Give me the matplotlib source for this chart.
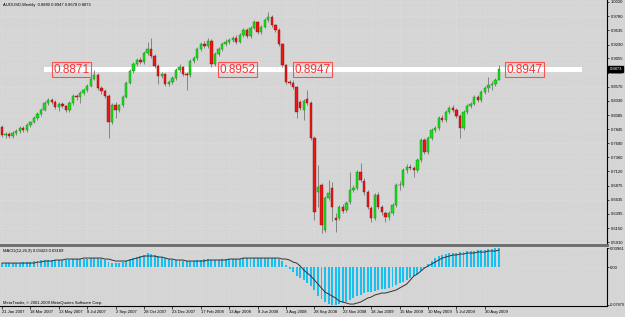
import numpy as np
import matplotlib
matplotlib.use('Agg')
import matplotlib.pyplot as plt
from matplotlib.transforms import blended_transform_factory

# weekly AUDUSD candles (21 Jan 2007 .. early Oct 2009)
opens = [
  0.7880, 0.7743, 0.7760, 0.7726, 0.7777, 0.7811, 0.7863, 0.7828, 0.7914, 0.7965,
  0.8034, 0.8102, 0.8171, 0.8291, 0.8342, 0.8308, 0.8222, 0.8274, 0.8239, 0.8171,
  0.8291, 0.8410, 0.8393, 0.8462, 0.8513, 0.8582, 0.8702, 0.8770, 0.8547, 0.8496,
  0.8410, 0.7965, 0.8256, 0.8171, 0.8256, 0.8393, 0.8633, 0.8838, 0.8958, 0.9027,
  0.8992, 0.9146, 0.9215, 0.9095, 0.8924, 0.8753, 0.8787, 0.8616, 0.8650, 0.8719,
  0.8856, 0.8907, 0.8787, 0.8770, 0.9010, 0.9061, 0.9215, 0.9301, 0.9266, 0.9352,
  0.8958, 0.9129, 0.9215, 0.9301, 0.9335, 0.9369, 0.9403, 0.9335, 0.9455, 0.9540,
  0.9437, 0.9575, 0.9677, 0.9506, 0.9592, 0.9712, 0.9763, 0.9626, 0.9540, 0.9301,
  0.8941, 0.8650, 0.8640, 0.8565, 0.8300, 0.8171, 0.8359, 0.8291, 0.7691, 0.6767,
  0.6887, 0.6116, 0.6664, 0.6835, 0.6322, 0.6322, 0.6510, 0.6459, 0.6596, 0.6801,
  0.6835, 0.7109, 0.6955, 0.6767, 0.6493, 0.6322, 0.6716, 0.6510, 0.6407, 0.6339,
  0.6407, 0.6544, 0.6887, 0.6880, 0.7144, 0.7195, 0.7178, 0.7144, 0.7315, 0.7657,
  0.7451, 0.7691, 0.7828, 0.7863, 0.8034, 0.8000, 0.8137, 0.8205, 0.8171, 0.8068,
  0.7863, 0.8137, 0.8239, 0.8274, 0.8393, 0.8342, 0.8479, 0.8547, 0.8599, 0.8616,
  0.8684]
highs = [
  0.7920, 0.7800, 0.7790, 0.7810, 0.7850, 0.7890, 0.7900, 0.7940, 0.7990, 0.8060,
  0.8130, 0.8200, 0.8320, 0.8370, 0.8380, 0.8340, 0.8300, 0.8310, 0.8260, 0.8320,
  0.8440, 0.8450, 0.8490, 0.8550, 0.8610, 0.8730, 0.8856, 0.8810, 0.8580, 0.8530,
  0.8440, 0.8290, 0.8300, 0.8280, 0.8420, 0.8660, 0.8870, 0.8990, 0.9060, 0.9070,
  0.9180, 0.9335, 0.9403, 0.9130, 0.8960, 0.8830, 0.8810, 0.8690, 0.8750, 0.8890,
  0.8950, 0.8930, 0.8820, 0.9040, 0.9100, 0.9250, 0.9330, 0.9350, 0.9400, 0.9390,
  0.9160, 0.9250, 0.9330, 0.9380, 0.9410, 0.9440, 0.9450, 0.9490, 0.9570, 0.9580,
  0.9610, 0.9710, 0.9700, 0.9630, 0.9750, 0.9849, 0.9790, 0.9650, 0.9570, 0.9320,
  0.8960, 0.8690, 0.8680, 0.8590, 0.8340, 0.8360, 0.8513, 0.8320, 0.7720, 0.7229,
  0.6920, 0.6700, 0.6972, 0.6930, 0.6400, 0.6540, 0.6560, 0.6620, 0.7109, 0.6880,
  0.7150, 0.7264, 0.7000, 0.6800, 0.6530, 0.6750, 0.6760, 0.6550, 0.6440, 0.6450,
  0.6580, 0.6920, 0.6960, 0.7180, 0.7240, 0.7250, 0.7220, 0.7350, 0.7700, 0.7700,
  0.7720, 0.7860, 0.7900, 0.8070, 0.8080, 0.8170, 0.8240, 0.8250, 0.8200, 0.8100,
  0.8170, 0.8270, 0.8310, 0.8430, 0.8420, 0.8510, 0.8580, 0.8740, 0.8660, 0.8720,
  0.8947]
lows = [
  0.7710, 0.7700, 0.7690, 0.7700, 0.7740, 0.7780, 0.7790, 0.7800, 0.7880, 0.7940,
  0.8000, 0.8070, 0.8150, 0.8260, 0.8280, 0.8190, 0.8160, 0.8200, 0.8130, 0.8140,
  0.8260, 0.8350, 0.8290, 0.8430, 0.8480, 0.8560, 0.8680, 0.8510, 0.8450, 0.8370,
  0.7690, 0.7930, 0.8034, 0.8130, 0.8230, 0.8370, 0.8610, 0.8810, 0.8930, 0.8950,
  0.8960, 0.9120, 0.9060, 0.8890, 0.8616, 0.8720, 0.8580, 0.8580, 0.8620, 0.8690,
  0.8820, 0.8750, 0.8513, 0.8740, 0.8970, 0.9030, 0.9180, 0.9230, 0.9240, 0.8900,
  0.8930, 0.9100, 0.9180, 0.9270, 0.9300, 0.9340, 0.9300, 0.9310, 0.9420, 0.9400,
  0.9410, 0.9550, 0.9470, 0.9480, 0.9570, 0.9680, 0.9590, 0.9500, 0.9270, 0.8900,
  0.8610, 0.8600, 0.8530, 0.8034, 0.8170, 0.8000, 0.8260, 0.7650, 0.6288, 0.6510,
  0.6065, 0.6080, 0.6630, 0.6270, 0.6082, 0.6280, 0.6400, 0.6420, 0.6560, 0.6760,
  0.6800, 0.6930, 0.6720, 0.6470, 0.6260, 0.6290, 0.6470, 0.6380, 0.6250, 0.6290,
  0.6370, 0.6510, 0.6800, 0.6850, 0.7100, 0.7140, 0.7020, 0.7110, 0.7280, 0.7410,
  0.7420, 0.7660, 0.7790, 0.7830, 0.7960, 0.7970, 0.8100, 0.8130, 0.8030, 0.7700,
  0.7830, 0.8100, 0.8200, 0.8250, 0.8300, 0.8310, 0.8450, 0.8480, 0.8520, 0.8590,
  0.8678]
closes = [
  0.7743, 0.7760, 0.7726, 0.7777, 0.7811, 0.7863, 0.7828, 0.7914, 0.7965, 0.8034,
  0.8102, 0.8171, 0.8291, 0.8342, 0.8308, 0.8222, 0.8274, 0.8239, 0.8171, 0.8291,
  0.8410, 0.8393, 0.8462, 0.8513, 0.8582, 0.8702, 0.8770, 0.8547, 0.8496, 0.8410,
  0.7965, 0.8256, 0.8171, 0.8256, 0.8393, 0.8633, 0.8838, 0.8958, 0.9027, 0.8992,
  0.9146, 0.9215, 0.9095, 0.8924, 0.8753, 0.8787, 0.8616, 0.8650, 0.8719, 0.8856,
  0.8907, 0.8787, 0.8770, 0.9010, 0.9061, 0.9215, 0.9301, 0.9266, 0.9352, 0.8958,
  0.9129, 0.9215, 0.9301, 0.9335, 0.9369, 0.9403, 0.9335, 0.9455, 0.9540, 0.9437,
  0.9575, 0.9677, 0.9506, 0.9592, 0.9712, 0.9763, 0.9626, 0.9540, 0.9301, 0.8941,
  0.8650, 0.8640, 0.8565, 0.8137, 0.8205, 0.8325, 0.8291, 0.7691, 0.6424, 0.6853,
  0.6202, 0.6664, 0.6750, 0.6510, 0.6288, 0.6510, 0.6442, 0.6579, 0.6801, 0.6835,
  0.7109, 0.6972, 0.6767, 0.6510, 0.6322, 0.6716, 0.6510, 0.6424, 0.6339, 0.6407,
  0.6544, 0.6887, 0.6880, 0.7144, 0.7195, 0.7178, 0.7144, 0.7315, 0.7657, 0.7451,
  0.7691, 0.7828, 0.7863, 0.8034, 0.8000, 0.8137, 0.8205, 0.8171, 0.8068, 0.7863,
  0.8137, 0.8239, 0.8274, 0.8393, 0.8342, 0.8479, 0.8547, 0.8599, 0.8616, 0.8684,
  0.8873]

# MACD(12,26,9) main (histogram) and signal line
macd_main = [
  0.0083, 0.0083, 0.0083, 0.0083, 0.0083, 0.0083, 0.0104, 0.0104, 0.0104, 0.0125,
  0.0125, 0.0146, 0.0146, 0.0146, 0.0146, 0.0146, 0.0146, 0.0146, 0.0146, 0.0146,
  0.0166, 0.0166, 0.0166, 0.0166, 0.0166, 0.0187, 0.0187, 0.0187, 0.0166, 0.0146,
  0.0104, 0.0083, 0.0083, 0.0083, 0.0104, 0.0125, 0.0166, 0.0187, 0.0208, 0.0229,
  0.0250, 0.0291, 0.0270, 0.0250, 0.0229, 0.0208, 0.0187, 0.0166, 0.0146, 0.0146,
  0.0146, 0.0125, 0.0125, 0.0125, 0.0125, 0.0146, 0.0146, 0.0166, 0.0166, 0.0146,
  0.0146, 0.0146, 0.0166, 0.0166, 0.0166, 0.0166, 0.0166, 0.0166, 0.0187, 0.0187,
  0.0187, 0.0187, 0.0187, 0.0187, 0.0187, 0.0187, 0.0187, 0.0187, 0.0166, 0.0125,
  0.0042, -0.0042, -0.0104, -0.0187, -0.0229, -0.0270, -0.0333, -0.0395, -0.0478, -0.0603,
  -0.0666, -0.0728, -0.0770, -0.0788, -0.0788, -0.0770, -0.0749, -0.0728, -0.0686, -0.0645,
  -0.0603, -0.0582, -0.0541, -0.0520, -0.0520, -0.0499, -0.0478, -0.0458, -0.0458, -0.0437,
  -0.0416, -0.0374, -0.0333, -0.0312, -0.0270, -0.0229, -0.0187, -0.0146, -0.0083, -0.0021,
  0.0062, 0.0125, 0.0187, 0.0229, 0.0250, 0.0270, 0.0291, 0.0291, 0.0291, 0.0312,
  0.0312, 0.0333, 0.0333, 0.0333, 0.0354, 0.0354, 0.0354, 0.0374, 0.0374, 0.0395,
  0.0396]
macd_signal = [
  0.0083, 0.0083, 0.0083, 0.0083, 0.0083, 0.0083, 0.0083, 0.0083, 0.0083, 0.0083,
  0.0104, 0.0104, 0.0125, 0.0125, 0.0125, 0.0146, 0.0146, 0.0146, 0.0166, 0.0166,
  0.0166, 0.0166, 0.0166, 0.0187, 0.0187, 0.0187, 0.0187, 0.0187, 0.0187, 0.0166,
  0.0166, 0.0146, 0.0125, 0.0125, 0.0125, 0.0125, 0.0146, 0.0166, 0.0187, 0.0208,
  0.0229, 0.0229, 0.0229, 0.0229, 0.0208, 0.0208, 0.0187, 0.0166, 0.0166, 0.0146,
  0.0146, 0.0146, 0.0125, 0.0125, 0.0125, 0.0125, 0.0125, 0.0125, 0.0146, 0.0146,
  0.0146, 0.0146, 0.0146, 0.0146, 0.0166, 0.0166, 0.0166, 0.0166, 0.0187, 0.0187,
  0.0187, 0.0187, 0.0187, 0.0187, 0.0187, 0.0187, 0.0187, 0.0187, 0.0187, 0.0166,
  0.0166, 0.0146, 0.0104, 0.0083, 0.0021, -0.0062, -0.0125, -0.0187, -0.0270, -0.0354,
  -0.0437, -0.0520, -0.0562, -0.0603, -0.0645, -0.0707, -0.0728, -0.0749, -0.0770, -0.0770,
  -0.0749, -0.0728, -0.0686, -0.0645, -0.0624, -0.0582, -0.0562, -0.0541, -0.0541, -0.0520,
  -0.0499, -0.0478, -0.0437, -0.0395, -0.0354, -0.0270, -0.0187, -0.0146, -0.0083, -0.0021,
  0.0021, 0.0062, 0.0104, 0.0146, 0.0187, 0.0208, 0.0229, 0.0250, 0.0250, 0.0270,
  0.0270, 0.0291, 0.0291, 0.0291, 0.0312, 0.0312, 0.0312, 0.0333, 0.0333, 0.0333,
  0.0354]

date_labels = ['21 Jan 2007', '18 Mar 2007', '13 May 2007', '8 Jul 2007', '2 Sep 2007',
               '28 Oct 2007', '23 Dec 2007', '17 Feb 2008', '13 Apr 2008', '8 Jun 2008',
               '3 Aug 2008', '28 Sep 2008', '23 Nov 2008', '18 Jan 2009', '15 Mar 2009',
               '10 May 2009', '5 Jul 2009', '30 Aug 2009']
date_weeks = [0, 8, 16, 24, 32, 40, 48, 56, 64, 72, 80, 88, 96, 104, 112, 120, 128, 136]

price_ticks = [1.0020, 0.9780, 0.9535, 0.9290, 0.9055, 0.8810, 0.8570, 0.8330, 0.8085,
               0.7845, 0.7600, 0.7360, 0.7120, 0.6875, 0.6635, 0.6395, 0.6150, 0.5910]
macd_ticks = [0.0396, 0.0, -0.0788]
macd_tick_labels = ['0.03961', '0.00', '-0.07879']

# hand-drawn level marks on the chart
level_week = [14.6, 61.2, 82.4, 142.0]
level_text = ['0.8871', '0.8952', '0.8947', '0.8947']
level_band = (0.8830, 0.8906)
last_price = 0.8873

BG = '#d5d5d5'
GREEN, RED = '#1fdc1f', '#ee1515'
SMALL = dict(fontsize=3.0, family='Liberation Sans')

W, H = 625.0, 317.0
fig = plt.figure(figsize=(6.25, 3.17), dpi=100, facecolor=BG)
ax = fig.add_axes([0, 72 / H, 607 / W, 245 / H], facecolor=BG)
mx = fig.add_axes([0, 11 / H, 607 / W, 58 / H], facecolor=BG)

o, hi, lo, c = map(np.array, (opens, highs, lows, closes))
weeks = np.arange(len(c))
up = c >= o
body_lo = np.minimum(o, c)
body_h = np.maximum(np.abs(c - o), 0.0008)

# white level band behind the candles
ax.fill_between([11.8, 163.4], level_band[0], level_band[1], color='white', lw=0, zorder=1)

ax.vlines(weeks, lo, hi, color='#777777', lw=0.6, zorder=2)
ax.bar(weeks[up], body_h[up], bottom=body_lo[up], width=0.65, color=GREEN,
       edgecolor='#0b8a0b', lw=0.3, zorder=3)
ax.bar(weeks[~up], body_h[~up], bottom=body_lo[~up], width=0.65, color=RED,
       edgecolor='#8a0b0b', lw=0.3, zorder=3)

for wk, s in zip(level_week, level_text):
  ax.text(wk, 0.8861, s, ha='left', va='center', color='#ff3030', fontsize=8.5,
          family='Liberation Sans', zorder=5,
          bbox=dict(boxstyle='square,pad=0.12', fc='none', ec='#ff5050', lw=0.8))

xlim = (-0.563, 170.42)
ax.set_xlim(xlim)
ax.set_ylim(0.5860, 1.0054)
ax.yaxis.tick_right()
ax.set_yticks(price_ticks, ['%.4f' % v for v in price_ticks])
ax.set_xticks(date_weeks)
ax.tick_params(axis='x', length=0, labelbottom=False)
ax.tick_params(axis='y', length=1.5, pad=1, width=0.5)
for t in ax.get_yticklabels():
  t.set_fontsize(SMALL['fontsize']); t.set_family(SMALL['family'])
ax.grid(True, color='#e9e9e9', ls=(0, (1, 3)), lw=0.5)
ax.set_axisbelow(True)

tr = blended_transform_factory(ax.transAxes, ax.transData)
ax.text(1.004, last_price, '%.4f' % last_price, transform=tr, ha='left', va='center',
        color='white', bbox=dict(boxstyle='square,pad=0.25', fc='black', ec='black'),
        zorder=6, **SMALL)

# MACD panel
mx.bar(weeks, macd_main, width=0.55, color='#18c0f2', zorder=2)
mx.plot(weeks, macd_signal, color='#333333', lw=0.7, zorder=3)
mx.set_xlim(xlim)
mx.set_ylim(-0.0810, 0.0396)
mx.yaxis.tick_right()
mx.set_yticks(macd_ticks, macd_tick_labels)
mx.set_xticks(date_weeks, date_labels)
mx.tick_params(axis='x', length=2, pad=1, width=0.5)
mx.tick_params(axis='y', length=1.5, pad=0.6, width=0.5)
for t in mx.get_xticklabels() + mx.get_yticklabels():
  t.set_fontsize(SMALL['fontsize']); t.set_family(SMALL['family'])
mx.get_yticklabels()[-1].set_fontsize(2.7)
for t in mx.get_xticklabels():
  t.set_ha('left')
mx.grid(True, color='#e9e9e9', ls=(0, (1, 3)), lw=0.5)
mx.set_axisbelow(True)

for a in (ax, mx):
  a.spines['top'].set_visible(False)
  a.spines['left'].set_visible(False)
  a.spines['right'].set_linewidth(0.8)
ax.spines['bottom'].set_color('#6a6a6a')
ax.spines['bottom'].set_linewidth(2)
mx.spines['bottom'].set_linewidth(0.8)

fig.text(3 / W, 1 - 5 / H, 'AUDUSD,Weekly  0.8880 0.8947 0.8678 0.8873', va='center', **SMALL)
fig.text(3 / W, 1 - 251 / H, 'MACD(12,26,9) 0.03423 0.03189', va='center', **SMALL)
fig.text(3 / W, 1 - 303 / H, 'MetaTrader, \u00a9 2001-2009 MetaQuotes Software Corp.',
         va='center', **SMALL)

fig.savefig('out.png', dpi=100, facecolor=BG)
